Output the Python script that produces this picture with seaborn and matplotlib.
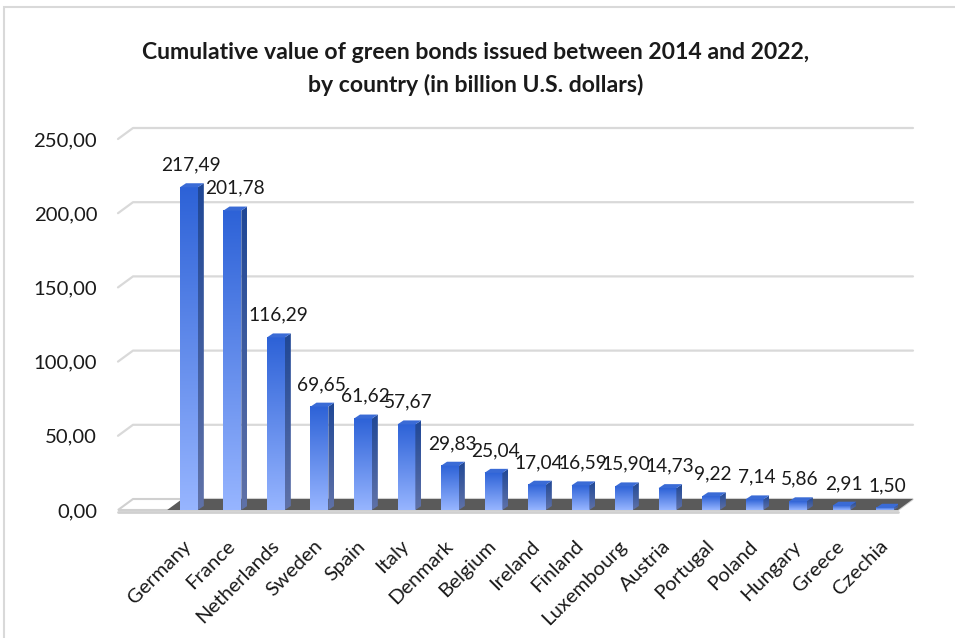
import numpy as np
import seaborn as sns
import matplotlib.pyplot as plt
from matplotlib.patches import Polygon, Rectangle
from matplotlib.colors import LinearSegmentedColormap
from matplotlib.ticker import FuncFormatter

countries = ['Germany', 'France', 'Netherlands', 'Sweden', 'Spain', 'Italy', 'Denmark',
             'Belgium', 'Ireland', 'Finland', 'Luxembourg', 'Austria', 'Portugal',
             'Poland', 'Hungary', 'Greece', 'Czechia']
values = [217.49, 201.78, 116.29, 69.65, 61.62, 57.67, 29.83, 25.04, 17.04,
          16.59, 15.90, 14.73, 9.22, 7.14, 5.86, 2.91, 1.50]
yticks = [0, 50, 100, 150, 200, 250]

title = ('Cumulative value of green bonds issued between 2014 and 2022,\n'
         'by country (in billion U.S. dollars)')

sns.set_theme(style='white')
plt.rcParams['font.family'] = ['Lato', 'DejaVu Sans']

W, H = 955, 638
fig = plt.figure(figsize=(W / 100, H / 100), dpi=100)
# axes = front plane of the 3d box, in pixels
ax_l, ax_r, ax_b, ax_t = 118, 898, 510, 139
ax = fig.add_axes([ax_l / W, (H - ax_b) / H, (ax_r - ax_l) / W, (ax_b - ax_t) / H])

xlo, xhi = -1.63, 16.3
ylo, yhi = 0, 250
px_x = (xhi - xlo) / (ax_r - ax_l)   # data units per pixel
px_y = (yhi - ylo) / (ax_b - ax_t)

sns.barplot(x=countries, y=values, color='#3366d6', width=0.41, ax=ax, zorder=3)
ax.set_xlim(xlo, xhi)
ax.set_ylim(ylo, yhi)

# back wall gridlines with 3d slant
dxw, dyw = 15 * px_x, 11 * px_y
for v in yticks[1:]:
    ax.plot([xlo, xlo + dxw, xhi + dxw], [v, v + dyw, v + dyw], color='#d9d9d9',
            lw=1.6, clip_on=False, zorder=1)

# floor
ax.add_patch(Polygon([(xlo, 0), (xhi, 0), (xhi + dxw, dyw), (xlo + dxw, dyw)],
                     closed=True, facecolor='white', edgecolor='#d0d0d0', lw=1.5,
                     clip_on=False, zorder=1))
ax.add_patch(Polygon([(-0.5, 0), (xhi, 0), (xhi + dxw, dyw), (-0.5 + dxw, dyw)],
                     closed=True, facecolor='#5a5a5a', edgecolor='none',
                     clip_on=False, zorder=2))
ax.plot([xlo, xhi], [-2 * px_y, -2 * px_y], color='#d0d0d0', lw=2, clip_on=False, zorder=2)

front_cmap = LinearSegmentedColormap.from_list('front', ['#97b5ff', '#2d62d7'])
side_cmap = LinearSegmentedColormap.from_list('side', ['#6072a8', '#1f4796'])
grad = np.linspace(0, 1, 256).reshape(-1, 1)
dxs, dys = 6 * px_x, 4 * px_y

for p, v in zip(ax.patches, values):
    x0 = p.get_x()
    x1 = x0 + p.get_width()
    h = p.get_height()
    p.set_facecolor('none')
    p.set_edgecolor('none')
    ax.imshow(grad, cmap=front_cmap, extent=(x0, x1, 0, h), origin='lower',
              aspect='auto', zorder=4, interpolation='bilinear')
    side = Polygon([(x1, 0), (x1 + dxs, dys), (x1 + dxs, h + dys), (x1, h)],
                   closed=True, facecolor='none', edgecolor='none')
    ax.add_patch(side)
    im = ax.imshow(grad, cmap=side_cmap, extent=(x1, x1 + dxs, 0, h + dys),
                   origin='lower', aspect='auto', zorder=4, interpolation='bilinear')
    im.set_clip_path(side)
    ax.add_patch(Polygon([(x0, h), (x1, h), (x1 + dxs, h + dys), (x0 + dxs, h + dys)],
                         closed=True, facecolor='#3a6bd6', edgecolor='none', zorder=5))
    ax.annotate(f'{v:.2f}'.replace('.', ','), (x0 + p.get_width() / 2 + 0.05, h),
                xytext=(0, 16), textcoords='offset points', ha='center', va='center',
                fontsize=13.8, color='#1a1a1a', zorder=6, annotation_clip=False)

ax.set_xlim(xlo, xhi)
ax.set_ylim(ylo, yhi)
ax.set_yticks(yticks)
ax.yaxis.set_major_formatter(FuncFormatter(lambda v, _: f'{v:.2f}'.replace('.', ',')))
ax.tick_params(axis='y', length=0, pad=15, labelsize=14.6, labelcolor='#1a1a1a')
ax.tick_params(axis='x', length=0, pad=24, labelsize=14.6, labelcolor='#1a1a1a')
for lab in ax.get_xticklabels():
    lab.set_rotation(45)
    lab.set_ha('right')
    lab.set_va('center')
    lab.set_rotation_mode('anchor')
ax.grid(False)
for s in ax.spines.values():
    s.set_visible(False)
ax.set_xlabel('')
ax.set_ylabel('')
ax.patch.set_alpha(0)

fig.text(476 / W, 1 - 69 / H, title, ha='center', va='center', fontsize=16.6,
         fontweight='bold', color='#1a1a1a', linespacing=1.6)

# outer chart frame
fig.add_artist(Rectangle((4 / W, -0.05), 1.2, (H - 7) / H + 0.05, transform=fig.transFigure,
                         facecolor='none', edgecolor='#d9d9d9', lw=1.5))

fig.savefig('out.png', dpi=100)
